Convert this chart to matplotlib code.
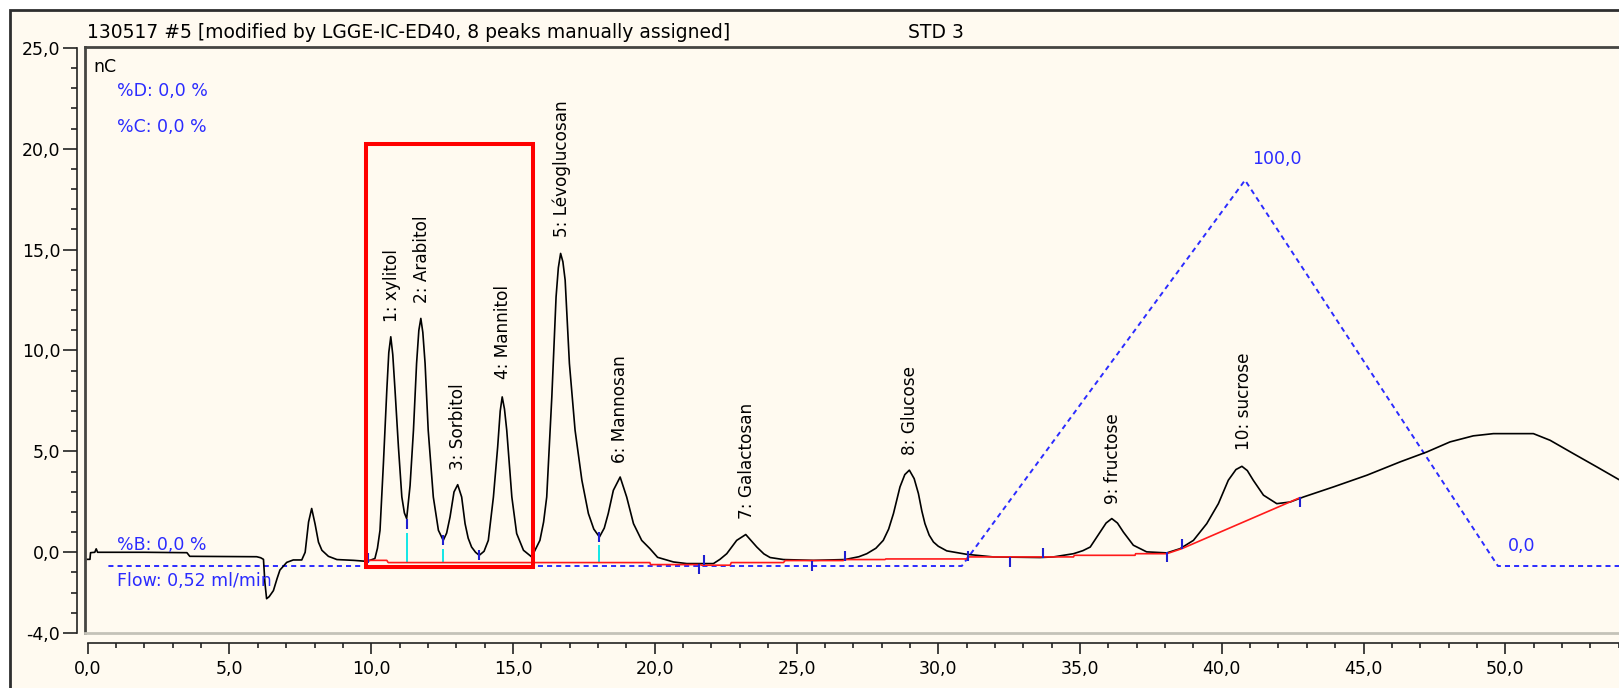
import matplotlib.pyplot as plt
from matplotlib.patches import Rectangle
from matplotlib.ticker import FixedLocator, MultipleLocator, FuncFormatter

# chromatogram signal (min, nC)
time = [0.0, 0.08, 0.1, 0.25, 0.3, 0.35, 1.0, 2.0, 3.5, 3.6, 5.96, 6.1, 6.2, 6.25, 6.31,
        6.4, 6.55, 6.68, 6.78, 7.02, 7.25, 7.55, 7.67, 7.79, 7.90, 8.02, 8.14, 8.26, 8.49,
        8.79, 9.38, 9.85, 10.13, 10.22, 10.31, 10.43, 10.55, 10.62, 10.69, 10.76, 10.84,
        10.96, 11.08, 11.17, 11.25, 11.37, 11.49, 11.6, 11.68, 11.75, 11.82, 11.9, 12.01, 12.19,
        12.37, 12.54, 12.66, 12.78, 12.92, 13.05, 13.19, 13.31, 13.42, 13.54, 13.68, 13.81, 13.98,
        14.13, 14.31, 14.46, 14.55, 14.62, 14.7, 14.78, 14.96, 15.13, 15.37, 15.66, 15.95,
        16.08, 16.19, 16.37, 16.52, 16.6, 16.68, 16.76, 16.84, 16.99, 17.19, 17.43, 17.66,
        17.85, 18.05, 18.22, 18.36, 18.54, 18.78, 19.01, 19.25, 19.54, 19.83, 20.1, 20.66,
        21.13, 22.07, 22.3, 22.54, 22.89, 23.21, 23.6, 23.85, 24.07, 24.54, 25.59, 26.71,
        27.2, 27.48, 27.8, 28.06, 28.25, 28.42, 28.65, 28.82, 28.98, 29.15, 29.3, 29.42,
        29.53, 29.68, 29.83, 30.0, 30.3, 31.0, 31.94, 33.59, 34.06, 34.77, 35.1, 35.36,
        35.71, 35.92, 36.12, 36.32, 36.53, 36.88, 37.35, 38.06, 38.53, 39.0, 39.47, 39.88,
        40.23, 40.5, 40.71, 40.9, 41.11, 41.47, 41.94, 42.41, 42.88, 43.94, 45.12, 46.29,
        47.23, 48.05, 48.87, 49.58, 50.99, 51.58, 52.4, 53.23, 54.01]
signal = [-0.35, -0.35, -0.02, 0.0, 0.17, 0.0, 0.0, 0.0, -0.02, -0.2, -0.22, -0.27, -0.35, -1.5, -2.3,
          -2.2, -1.9, -1.3, -0.88, -0.5, -0.38, -0.38, 0.0, 1.5, 2.17, 1.4, 0.5, 0.1, -0.2,
          -0.36, -0.4, -0.45, -0.31, 0.2, 1.09, 4.4, 8.03, 9.9, 10.68, 9.8, 8.03,
          5.22, 2.74, 1.95, 1.67, 3.3, 6.05, 9.36, 11.0, 11.59, 10.9, 9.36, 6.05, 2.74,
          1.09, 0.59, 0.95, 1.75, 2.99, 3.35, 2.74, 1.42, 0.7, 0.26, 0.0, -0.15, 0.05,
          0.59, 2.74, 5.22, 7.0, 7.70, 7.1, 6.05, 2.74, 0.93, 0.10, -0.23, 0.59,
          1.5, 2.74, 7.70, 12.66, 14.1, 14.81, 14.4, 13.49, 9.36, 6.05, 3.57, 1.92,
          1.15, 0.76, 1.2, 1.92, 3.07, 3.73, 2.74, 1.42, 0.59, 0.18, -0.25, -0.48,
          -0.56, -0.56, -0.35, -0.07, 0.59, 0.88, 0.26, -0.08, -0.26, -0.36, -0.40, -0.36,
          -0.22, -0.07, 0.2, 0.59, 1.15, 1.92, 3.24, 3.85, 4.07, 3.65, 2.91, 2.05,
          1.42, 0.85, 0.51, 0.3, 0.07, -0.10, -0.23, -0.26, -0.23, -0.07, 0.08, 0.26,
          1.0, 1.45, 1.67, 1.45, 1.0, 0.35, 0.02, -0.03, 0.18, 0.59, 1.42, 2.41,
          3.57, 4.1, 4.26, 4.05, 3.57, 2.83, 2.41, 2.49, 2.74, 3.24, 3.82, 4.48,
          4.97, 5.47, 5.77, 5.88, 5.88, 5.55, 4.89, 4.23, 3.6]

# integration baseline (red)
base_t = [9.9, 10.55, 10.6, 19.83, 19.85, 21.6, 21.65, 22.66, 22.7, 24.54, 24.6, 26.65,
          26.7, 28.12, 28.15, 31.0, 31.05, 34.77, 34.8, 36.94, 36.96, 38.06, 38.59, 42.76]
base_v = [-0.40, -0.40, -0.51, -0.51, -0.61, -0.61, -0.64, -0.64, -0.51, -0.51, -0.41, -0.41,
          -0.36, -0.36, -0.33, -0.33, -0.23, -0.23, -0.15, -0.15, -0.07, -0.07, 0.18, 2.71]

# gradient / flow profile (blue dashed)
grad_t = [0.73, 30.83, 40.82, 49.74, 54.1]
grad_v = [-0.68, -0.68, 18.44, -0.68, -0.68]

# peak delimiters
delim_t = [9.9, 11.25, 12.54, 13.81, 18.05, 21.55, 21.72, 25.54, 26.71, 31.06, 32.53, 33.68,
           38.06, 38.59, 42.76]
delim_v = [-0.3, 1.4, 0.6, -0.15, 0.77, -0.85, -0.4, -0.69, -0.2, -0.17, -0.48, -0.03,
           -0.24, 0.39, 2.5]
drop_t = [11.25, 12.54, 18.05]
drop_lo = [-0.51, -0.51, -0.51]
drop_hi = [0.94, 0.18, 0.35]

# peak names
peak_names = ["1: xylitol", "2: Arabitol", "3: Sorbitol", "4: Mannitol", "5: Lévoglucosan",
              "6: Mannosan", "7: Galactosan", "8: Glucose", "9: fructose", "10: sucrose"]
peak_t = [10.72, 11.78, 13.07, 14.66, 16.71, 18.78, 23.26, 29.0, 36.15, 40.78]
peak_v = [11.42, 12.33, 4.07, 8.61, 15.63, 4.40, 1.67, 4.81, 2.38, 5.06]

y_major = [-4, 0, 5, 10, 15, 20, 25]
box_t = (9.83, 15.70)
box_v = (-0.73, 20.25)

cream = "#fffaf0"
blue = "#2b2bff"
W, H = 1619, 688

fig = plt.figure(figsize=(W / 100, H / 100), dpi=100, facecolor="white")
fig.patches.append(Rectangle((10 / W, -0.1), 1.2, 1.1 - 10 / H, transform=fig.transFigure,
                             facecolor=cream, edgecolor="#2e2e2e", lw=2.0, zorder=-10))

rect = [85 / W, 55 / H, 1 - 85 / W, (633 - 47) / H]
ax = fig.add_axes(rect, facecolor="none")
ax.set_xlim(-0.095, 54.01)
ax.set_ylim(-4.0, 25.04)
ax.tick_params(which="both", length=0, labelbottom=False, labelleft=False)
for side in ["top", "left"]:
    ax.spines[side].set_color("#454542")
    ax.spines[side].set_linewidth(2.0)
ax.spines["bottom"].set_color("#c4c2b8")
ax.spines["bottom"].set_linewidth(2.0)
ax.spines["right"].set_visible(False)

# separate axis lines, offset from the frame
axs = fig.add_axes(rect, facecolor="none", zorder=-1)
axs.set_xlim(ax.get_xlim())
axs.set_ylim(ax.get_ylim())
axs.spines["top"].set_visible(False)
axs.spines["right"].set_visible(False)
axs.spines["left"].set_position(("outward", 5.8))
axs.spines["bottom"].set_position(("outward", 7.2))
axs.spines["left"].set_bounds(-4, 25)
axs.spines["bottom"].set_bounds(0, 54.01)
for side in ["left", "bottom"]:
    axs.spines[side].set_color("#222222")
    axs.spines[side].set_linewidth(1.2)
fmt = FuncFormatter(lambda v, p: ("%.1f" % v).replace(".", ","))
axs.yaxis.set_major_locator(FixedLocator(y_major))
axs.yaxis.set_minor_locator(MultipleLocator(1))
axs.xaxis.set_major_locator(MultipleLocator(5))
axs.xaxis.set_minor_locator(MultipleLocator(1))
axs.xaxis.set_major_formatter(fmt)
axs.yaxis.set_major_formatter(fmt)
axs.tick_params(axis="y", which="major", length=10, width=1.2, pad=2, labelsize=12.5, color="#222222")
axs.tick_params(axis="y", which="minor", length=4.5, width=1.2, color="#222222")
axs.tick_params(axis="x", which="major", length=8, width=1.2, pad=4, labelsize=12.5, color="#222222")
axs.tick_params(axis="x", which="minor", length=3.6, width=1.2, color="#222222")

ax.plot(grad_t, grad_v, color=blue, lw=1.4, ls=(0, (2.6, 2.1)), zorder=2)
ax.plot(time, signal, color="black", lw=1.2, zorder=3)
ax.plot(base_t, base_v, color="#ff1a1a", lw=1.2, zorder=4)
ax.vlines(drop_t, drop_lo, drop_hi, color="#00e5e5", lw=1.3, zorder=2)
ax.plot(delim_t, delim_v, ls="none", marker="|", markersize=7, mew=1.5, color="#1f1fd0", zorder=5)

ax.add_patch(Rectangle((box_t[0], box_v[0]), box_t[1] - box_t[0], box_v[1] - box_v[0],
                       fill=False, edgecolor="#ff0000", lw=2.9, joinstyle="miter", zorder=6))

for name, t, v in zip(peak_names, peak_t, peak_v):
    ax.text(t, v, name, rotation=90, ha="center", va="bottom", fontsize=12.2, color="black")

ax.text(0.19, 24.05, "nC", fontsize=12.5, va="center", ha="left")
ax.text(1.02, 22.86, "%D: 0,0 %", fontsize=12.5, color=blue, va="center")
ax.text(1.02, 21.07, "%C: 0,0 %", fontsize=12.5, color=blue, va="center")
ax.text(1.02, 0.34, "%B: 0,0 %", fontsize=12.5, color=blue, va="center")
ax.text(1.02, -1.42, "Flow: 0,52 ml/min", fontsize=12.5, color=blue, va="center")
ax.text(41.06, 19.48, "100,0", fontsize=12.5, color=blue, va="center")
ax.text(50.1, 0.32, "0,0", fontsize=12.5, color=blue, va="center")

fig.text(87 / W, 1 - 32 / H, "130517 #5 [modified by LGGE-IC-ED40, 8 peaks manually assigned]",
         fontsize=13.5, va="center", ha="left")
fig.text(908 / W, 1 - 32 / H, "STD 3", fontsize=13.5, va="center", ha="left")

fig.savefig("out.png", dpi=100, facecolor=fig.get_facecolor())
